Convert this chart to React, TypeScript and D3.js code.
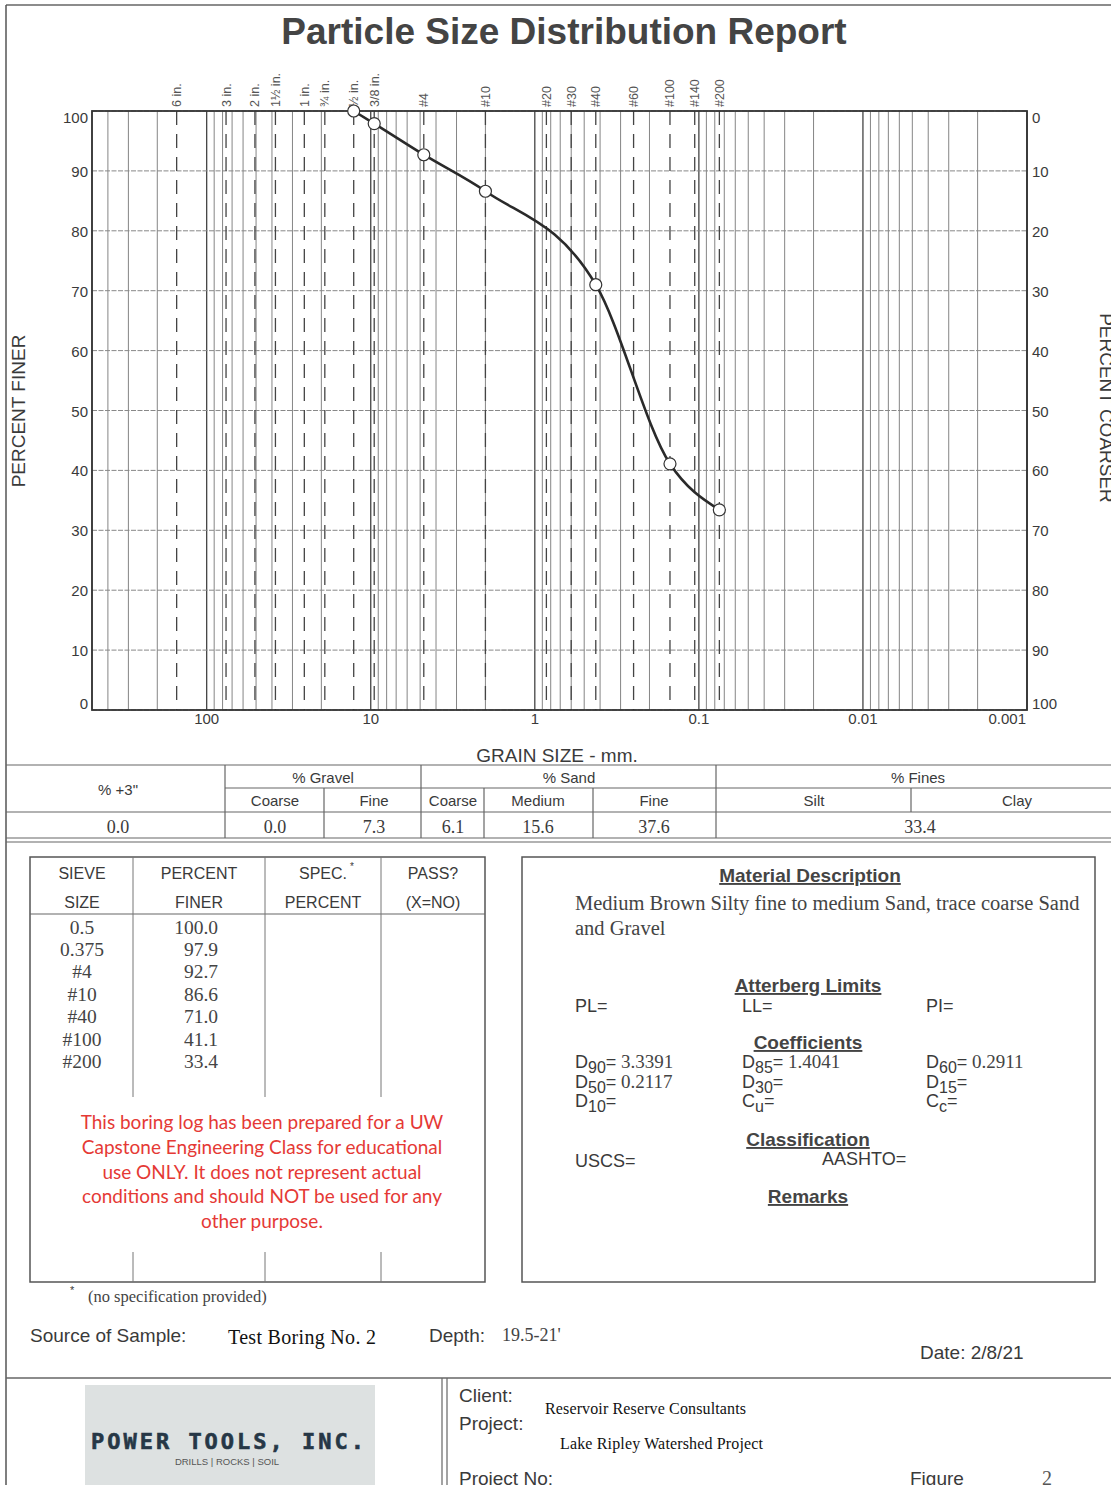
import React from 'react';
import * as d3 from 'd3';

// sieve test results
const sieveLabels = ['0.5', '0.375', '#4', '#10', '#40', '#100', '#200'];
const sieveSizesMm = [12.7, 9.525, 4.75, 2.0, 0.425, 0.15, 0.075];
const percentFiner = [100.0, 97.9, 92.7, 86.6, 71.0, 41.1, 33.4];

// standard sieve marks printed across the top of the chart
const sieveMarkNames = ['6 in.', '3 in.', '2 in.', '1½ in.', '1 in.', '¾ in.', '½ in.', '3/8 in.', '#4', '#10', '#20', '#30', '#40', '#60', '#100', '#140', '#200'];
const sieveMarkMm = [152.4, 76.2, 50.8, 38.1, 25.4, 19.05, 12.7, 9.525, 4.75, 2.0, 0.85, 0.6, 0.425, 0.25, 0.15, 0.106, 0.075];

const grainTicks = [100, 10, 1, 0.1, 0.01, 0.001];
const finerTicks = [0, 10, 20, 30, 40, 50, 60, 70, 80, 90, 100];

// gradation summary table
const plus3Value = '0.0';
const gradeGroups = ['% Gravel', '% Sand', '% Fines'];
const gradeSubs = ['Coarse', 'Fine', 'Coarse', 'Medium', 'Fine', 'Silt', 'Clay'];
const gradeValues = ['0.0', '7.3', '6.1', '15.6', '37.6', '33.4'];

const descLines = ['Medium Brown Silty fine to medium Sand, trace coarse Sand', 'and Gravel'];
const coefNames = [['90', '50', '10'], ['85', '30', ''], ['60', '15', '']];
const coefValues = [['3.3391', '0.2117', ''], ['1.4041', '', ''], ['0.2911', '', '']];

const disclaimer = [
  'This boring log has been prepared for a UW',
  'Capstone Engineering Class for educational',
  'use ONLY. It does not represent actual',
  'conditions and should NOT be used for any',
  'other purpose.',
];

const SANS = 'Liberation Sans, Arial, sans-serif';
const SERIF = 'Liberation Serif, Times New Roman, serif';
const INK = '#3a3a3a';

export default function App() {
  const width = 1111;
  const height = 1485;
  const plot = { left: 92, right: 1027, top: 111, bottom: 710 };

  const x = d3.scaleLog().domain([500, 0.001]).range([plot.left, plot.right]);
  const y = d3.scaleLinear().domain([0, 100]).range([plot.bottom, plot.top]);

  const gridX: number[] = [];
  for (let k = -3; k <= 2; k++) {
    for (let m = 1; m <= 9; m++) {
      const v = m * Math.pow(10, k);
      if (v <= 500 && v >= 0.001) gridX.push(v);
    }
  }

  const pts = sieveSizesMm.map((d, i) => [x(d), y(percentFiner[i])] as [number, number]);
  const line = d3.line().curve(d3.curveMonotoneX)(pts) || '';

  const rowY = [928, 950, 972, 995, 1017, 1040, 1062];
  const valueX = [275, 374, 453, 538, 654, 920];

  return (
    <svg width={width} height={height} style={{ position: 'absolute', left: 0, top: 0, background: '#fff' }} fontFamily={SANS}>
      <rect width={width} height={height} fill="#fff" />
      {/* page frame */}
      <line x1={6} x2={width} y1={5} y2={5} stroke="#666" strokeWidth={1.5} />
      <line x1={6} x2={6} y1={5} y2={height} stroke="#555" strokeWidth={1.5} />

      <text x={564} y={44} textAnchor="middle" fontSize={37} fontWeight="bold" fill="#444">Particle Size Distribution Report</text>

      {/* grid */}
      {gridX.map((v, i) => {
        const decade = Math.abs(Math.log10(v) - Math.round(Math.log10(v))) < 1e-9;
        return (
          <line key={'gx' + i} x1={x(v)} x2={x(v)} y1={plot.top} y2={plot.bottom}
            stroke={decade ? '#444' : '#777'} strokeWidth={decade ? 1.3 : 0.9} />
        );
      })}
      {finerTicks.map(t => (
        <line key={'gy' + t} x1={plot.left} x2={plot.right} y1={y(t)} y2={y(t)}
          stroke="#888" strokeWidth={1} strokeDasharray="5,1.5" />
      ))}
      {sieveMarkMm.map((v, i) => (
        <line key={'sm' + i} x1={x(v)} x2={x(v)} y1={plot.top} y2={plot.bottom}
          stroke="#444" strokeWidth={1.3} strokeDasharray="14,9" />
      ))}
      <rect x={plot.left} y={plot.top} width={plot.right - plot.left} height={plot.bottom - plot.top}
        fill="none" stroke="#333" strokeWidth={1.8} />

      {sieveMarkNames.map((n, i) => (
        <text key={'sn' + i} transform={`translate(${x(sieveMarkMm[i]) + 4.5},107) rotate(-90)`}
          fontSize={12.5} fill="#555">{n}</text>
      ))}

      {/* axes labels */}
      {finerTicks.map(t => {
        const dy = t === 100 ? 12 : t === 0 ? -1 : 6;
        return (
          <g key={'yl' + t}>
            <text x={88} y={y(t) + dy} textAnchor="end" fontSize={15} fill={INK}>{t}</text>
            <text x={1032} y={y(t) + dy} fontSize={15} fill={INK}>{100 - t}</text>
          </g>
        );
      })}
      {grainTicks.map((t, i) => (
        <text key={'xl' + i} x={i === grainTicks.length - 1 ? plot.right - 1 : x(t)} y={724}
          textAnchor={i === grainTicks.length - 1 ? 'end' : 'middle'} fontSize={15} fill={INK}>{String(t)}</text>
      ))}
      <text x={557} y={762} textAnchor="middle" fontSize={19} fill={INK}>GRAIN SIZE - mm.</text>
      <text transform="translate(25,411) rotate(-90)" textAnchor="middle" fontSize={19} fill={INK}>PERCENT FINER</text>
      <text transform="translate(1100,408) rotate(90)" textAnchor="middle" fontSize={19} fill={INK}>PERCENT COARSER</text>

      {/* gradation curve */}
      <path d={line} fill="none" stroke="#2a2a2a" strokeWidth={2.6} />
      {pts.map((p, i) => (
        <circle key={'pt' + i} cx={p[0]} cy={p[1]} r={6} fill="#fff" stroke="#333" strokeWidth={1.2} />
      ))}

      {/* gradation table */}
      <g stroke="#666" strokeWidth={1.2}>
        <line x1={6} x2={width} y1={765} y2={765} />
        <line x1={225} x2={width} y1={788} y2={788} />
        <line x1={6} x2={width} y1={812} y2={812} />
        <line x1={6} x2={width} y1={838} y2={838} />
        <line x1={6} x2={width} y1={842} y2={842} />
        {[225, 421, 716].map(v => <line key={'gv' + v} x1={v} x2={v} y1={765} y2={838} />)}
        {[324, 484, 593].map(v => <line key={'gs' + v} x1={v} x2={v} y1={788} y2={838} />)}
        <line x1={911} x2={911} y1={788} y2={812} />
      </g>
      <text x={118} y={795} textAnchor="middle" fontSize={15} fill={INK}>% +3"</text>
      {gradeGroups.map((g, i) => (
        <text key={'gg' + i} x={[323, 569, 918][i]} y={783} textAnchor="middle" fontSize={15} fill={INK}>{g}</text>
      ))}
      {gradeSubs.map((s, i) => (
        <text key={'gsub' + i} x={[275, 374, 453, 538, 654, 814, 1017][i]} y={806} textAnchor="middle" fontSize={15} fill={INK}>{s}</text>
      ))}
      <text x={118} y={833} textAnchor="middle" fontSize={18} fontFamily={SERIF} fill={INK}>{plus3Value}</text>
      {gradeValues.map((v, i) => (
        <text key={'gval' + i} x={valueX[i]} y={833} textAnchor="middle"
          fontSize={18} fontFamily={SERIF} fill={INK}>{v}</text>
      ))}

      {/* sieve table */}
      <rect x={30} y={857} width={455} height={425} fill="none" stroke="#555" strokeWidth={1.5} />
      <line x1={30} x2={485} y1={914} y2={914} stroke="#666" strokeWidth={1.2} />
      {[133, 265, 381].map(v => (
        <g key={'sv' + v} stroke="#777" strokeWidth={1}>
          <line x1={v} x2={v} y1={857} y2={1097} />
          <line x1={v} x2={v} y1={1252} y2={1282} />
        </g>
      ))}
      {[['SIEVE', 'SIZE', 82], ['PERCENT', 'FINER', 199], ['SPEC.', 'PERCENT', 323], ['PASS?', '(X=NO)', 433]].map((h, i) => (
        <g key={'sh' + i}>
          <text x={h[2] as number} y={879} textAnchor="middle" fontSize={16} fill={INK}>{h[0]}</text>
          <text x={h[2] as number} y={908} textAnchor="middle" fontSize={16} fill={INK}>{h[1]}</text>
        </g>
      ))}
      <text x={350} y={870} fontSize={10} fill={INK}>*</text>
      {sieveLabels.map((s, i) => (
        <g key={'row' + i}>
          <text x={82} y={rowY[i] + 6} textAnchor="middle" fontSize={19.5} fontFamily={SERIF} fill="#444">{s}</text>
          <text x={218} y={rowY[i] + 6} textAnchor="end" fontSize={19.5} fontFamily={SERIF} fill="#444">{percentFiner[i].toFixed(1)}</text>
        </g>
      ))}
      {disclaimer.map((l, i) => (
        <text key={'dl' + i} x={262} y={1129 + i * 24.8} textAnchor="middle" fontSize={19}
          fontFamily="Lato, Open Sans, sans-serif" fill="#e53935">{l}</text>
      ))}
      <text x={70} y={1294} fontSize={11} fill={INK}>*</text>
      <text x={88} y={1302} fontSize={16.5} fontFamily={SERIF} fill="#444">(no specification provided)</text>

      {/* material description box */}
      <rect x={522} y={857} width={573} height={425} fill="none" stroke="#555" strokeWidth={1.5} />
      {[['Material Description', 882], ['Atterberg Limits', 992], ['Coefficients', 1049], ['Classification', 1146], ['Remarks', 1203]].map(([t, yy], i) => (
        <g key={'hd' + i}>
          <text x={i === 0 ? 810 : 808} y={yy as number} textAnchor="middle" fontSize={19} fontWeight="bold" fill="#444"
            textDecoration="underline">{t}</text>
        </g>
      ))}
      {descLines.map((l, i) => (
        <text key={'ds' + i} x={575} y={910 + i * 25} fontSize={20.5} fontFamily={SERIF} fill="#444">{l}</text>
      ))}
      <text x={575} y={1012} fontSize={18} fill={INK}>PL=</text>
      <text x={742} y={1012} fontSize={18} fill={INK}>LL=</text>
      <text x={926} y={1012} fontSize={18} fill={INK}>PI=</text>
      {[575, 742, 926].map((cx, c) => (
        <g key={'cc' + c}>
          {[0, 1, 2].map(r => {
            const yy = 1068 + r * 19.5;
            const isCoef = coefNames[c][r] !== '';
            const letter = isCoef ? 'D' : 'C';
            const sub = isCoef ? coefNames[c][r] : c === 1 ? 'u' : 'c';
            return (
              <text key={'cr' + r} x={cx} y={yy} fontSize={18} fill={INK}>
                {letter}
                <tspan fontSize={16} dy={5}>{sub}</tspan>
                <tspan dy={-5}>=</tspan>
                <tspan fontFamily={SERIF} fill="#444" fontSize={19}> {coefValues[c][r]}</tspan>
              </text>
            );
          })}
        </g>
      ))}
      <text x={575} y={1167} fontSize={18} fill={INK}>USCS=</text>
      <text x={822} y={1165} fontSize={18} fill={INK}>AASHTO=</text>

      {/* sample info */}
      <text x={30} y={1342} fontSize={19} fill={INK}>Source of Sample:</text>
      <text x={228} y={1344} fontSize={20} fontFamily={SERIF} fill="#111" textLength={148}>Test Boring No. 2</text>
      <text x={429} y={1342} fontSize={19} fill={INK}>Depth:</text>
      <text x={502} y={1341} fontSize={18} fontFamily={SERIF} fill="#444">19.5-21'</text>
      <text x={920} y={1359} fontSize={19} fill={INK}>Date: 2/8/21</text>

      {/* footer block */}
      <line x1={6} x2={width} y1={1378} y2={1378} stroke="#666" strokeWidth={1.5} />
      <line x1={442} x2={442} y1={1378} y2={height} stroke="#666" strokeWidth={1.2} />
      <line x1={447} x2={447} y1={1378} y2={height} stroke="#666" strokeWidth={1.2} />
      <rect x={85} y={1385} width={290} height={100} fill="#dde1e1" />
      <text x={229} y={1449} textAnchor="middle" fontSize={22} fontWeight="bold" fontFamily="DejaVu Sans Mono, monospace"
        letterSpacing={3} fill="#263746" stroke="#263746" strokeWidth={0.6}>POWER TOOLS, INC.</text>
      <text x={227} y={1465} textAnchor="middle" fontSize={9.5} fill="#555">DRILLS | ROCKS | SOIL</text>
      <text x={459} y={1402} fontSize={19} fill={INK}>Client:</text>
      <text x={459} y={1430} fontSize={19} fill={INK}>Project:</text>
      <text x={459} y={1485} fontSize={19} fill={INK}>Project No:</text>
      <text x={545} y={1414} fontSize={16} fontFamily={SERIF} fill="#111" textLength={201}>Reservoir Reserve Consultants</text>
      <text x={560} y={1449} fontSize={16} fontFamily={SERIF} fill="#111" textLength={203}>Lake Ripley Watershed Project</text>
      <text x={910} y={1485} fontSize={19} fill={INK}>Figure</text>
      <text x={1042} y={1485} fontSize={20} fontFamily={SERIF} fill="#555">2</text>
    </svg>
  );
}
